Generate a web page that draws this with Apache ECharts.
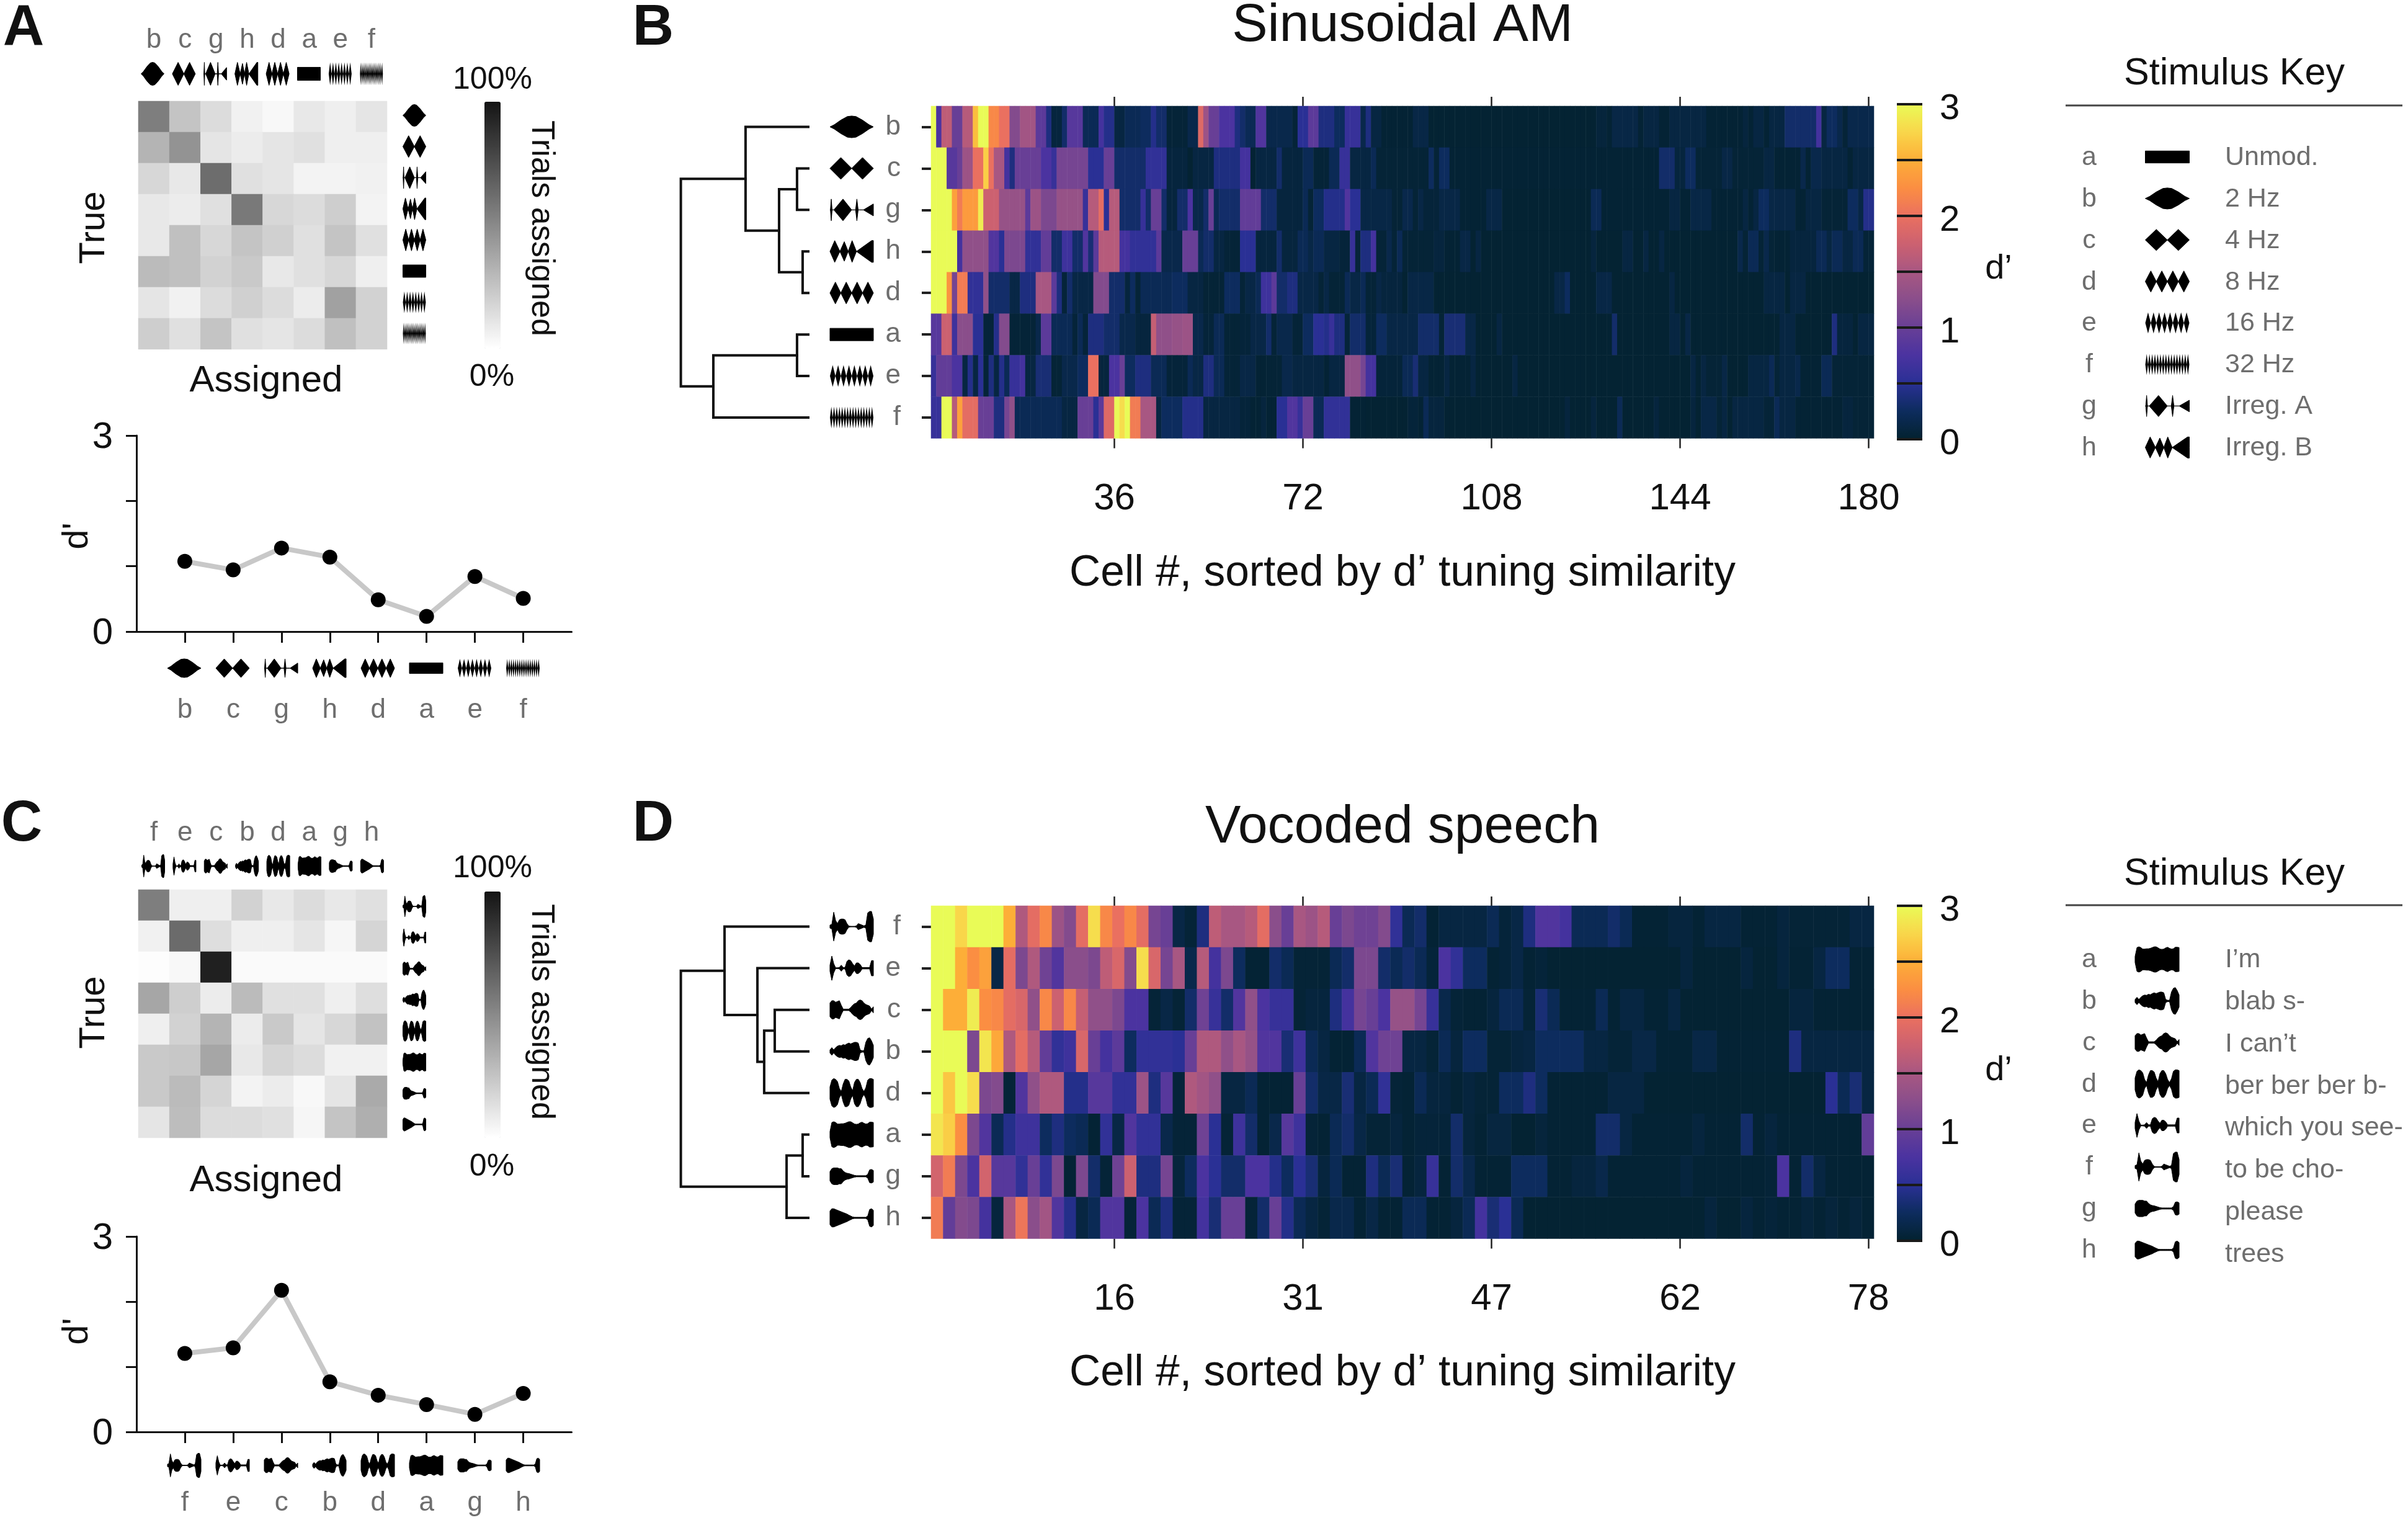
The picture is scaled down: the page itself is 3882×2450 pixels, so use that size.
<!DOCTYPE html>
<html><head><meta charset="utf-8">
<style>html,body{margin:0;padding:0;background:#fff}#c{width:3882px;height:2450px}</style>
<script src="https://cdn.jsdelivr.net/npm/echarts@6/dist/echarts.min.js"></script>
</head><body><div id="c"></div>
<script>
// ---------- data ----------
const orderA = ['b','c','g','h','d','a','e','f'];
const orderC = ['f','e','c','b','d','a','g','h'];
// confusion matrices, % of trials (rows = true, columns = assigned)
const confusionA = [
 [55,25,15,6,3,10,7,11],[32,46,11,8,11,13,7,7],[17,10,62,13,11,5,5,6],[10,8,13,57,17,15,21,5],
 [10,27,17,25,20,13,25,13],[29,27,19,23,10,13,17,7],[11,6,15,20,15,8,40,19],[21,13,25,13,11,15,27,19]];
const confusionC = [
 [55,7,7,19,10,15,10,13],[6,63,14,7,7,11,4,18],[1,3,95,2,2,2,2,2],[38,21,8,29,13,13,7,14],
 [7,19,32,8,23,11,17,26],[23,24,38,10,18,15,6,6],[23,29,18,5,8,3,11,36],[11,28,15,15,13,4,25,34]];
const dprimeA = [1.075,0.944,1.278,1.14,0.487,0.232,0.843,0.508];
const dprimeC = [1.204,1.29,2.173,0.77,0.563,0.42,0.27,0.591];
// heatmap rows as value,count runs (cell values of d')
const heatB = [
 [3,1,.75,1,1.65,2,1,2,1.6,2,2.6,1,3,2,2.2,2,2,2,1.2,2,1.45,3,.9,2,.4,1,.08,2,.3,1,.85,3,.2,3,.7,1,.45,2,.1,2,.2,3,.25,2,.45,1,.3,2,.05,4,.15,2,1.9,1,1.4,1,1,2,.75,3,.4,1,
  .3,1,.2,2,.8,2,.15,5,.05,1,.5,2,.9,2,.4,3,.25,2,.6,3,.15,1,.4,1,.1,2,.03,6,.12,3,.02,32,.07,2,.03,1,.12,5,.03,1,.1,3,.03,2,.1,7,.03,7,.08,1,.03,1,.1,2,.03,1,.1,3,.3,6,.7,1,.1,1,.25,2,.15,1,.05,1,.15,5],
 [3,3,.85,2,1,1,1.4,2,2,2,2.7,1,2,1,1.5,2,.7,1,.4,1,1,5,.75,2,.6,1,1.1,6,.5,3,1,2,.3,6,.55,4,.08,4,.02,1,.1,4,.4,5,
  .7,2,.03,1,.1,1,.1,3,.3,1,.08,4,.2,2,.05,3,.2,2,.6,2,.1,4,.2,1,.04,10,.25,1,.05,1,.25,2,.03,40,.3,3,.08,2,.25,2,.04,5,.12,2,.04,6,.1,2,.03,5,.15,1,.03,1,.15,2,.1,5,.03,1,.1,4],
 [3,4,2.4,1,2.1,1,2.35,3,2.9,1,1.75,3,1.35,5,.9,1,1.4,2,1.15,3,1.35,5,.6,1,1.6,2,1.95,1,.5,1,1.6,2,.3,4,.6,1,.3,1,1,2,.3,1,.08,2,.3,2,.75,1,.15,2,.3,1,1,1,.2,1,.3,4,
  .95,4,.3,3,.08,5,.2,1,.04,1,.25,2,.45,4,.8,1,.5,2,.12,6,.04,2,.15,2,.04,1,.12,1,.06,3,.12,4,.03,5,.12,3,.02,17,.2,2,.03,13,.1,2,.03,2,.12,4,.03,6,.1,1,.03,1,.1,1,.25,2,.12,5,.03,2,.1,3,.04,5,.25,2,.12,1,.45,2],
 [3,5,.7,1,1.3,5,.8,2,.5,1,1.15,4,.55,3,.95,2,.3,2,.65,2,.3,2,.8,1,.35,1,.9,1,1.6,4,.7,2,.55,5,.9,1,.15,4,1,3,.2,1,.3,2,.1,2,.05,3,
  .5,3,.08,4,.3,1,.08,3,.2,2,.12,1,.2,2,.1,3,.06,2,.6,1,.06,1,.4,2,.7,1,.05,2,.15,1,.05,1,.2,1,.04,6,.08,2,.03,3,.12,2,.02,1,.1,1,.02,21,.08,1,.02,5,.1,2,.02,2,.1,1,.02,2,.1,1,.02,14,.15,1,.04,1,.2,2,.04,1,.15,1,.04,1,.03,3,.08,5,.2,2,.1,1,.2,2,.1,2,.2,2,.05,2],
 [3,3,2.3,1,1.1,1,2.1,2,.55,3,1.3,1,.3,1,.3,3,.12,2,.4,3,1.5,3,.9,1,.4,1,.06,1,.3,1,.12,4,1.2,3,.3,3,.08,1,.25,1,.05,1,.2,6,.25,3,.1,3,.04,4,.25,3,
  .05,1,.12,2,.2,1,.65,2,.9,1,.3,2,.4,2,.12,4,.04,1,.12,1,.04,3,.2,1,.12,2,.2,1,.05,2,.12,1,.08,4,.02,1,.12,5,.02,23,.12,2,.25,1,.02,5,.12,3,.02,11,.1,1,.02,17,.1,4,.02,1,.1,3,.02,13],
 [.85,2,1.75,2,.65,1,1.25,3,.5,2,.06,2,.45,1,1.2,2,.05,5,.15,1,.9,2,.2,4,.06,1,.2,1,.06,1,.4,3,.3,3,.15,3,.08,3,1.7,1,1.3,3,1.35,2,1.4,2,.15,2,.06,2,.2,2,.04,3,
  .06,2,.12,3,.3,1,.05,1,.15,3,.05,2,.25,2,.5,2,.45,1,.6,1,.4,2,.06,1,.3,3,.06,2,.25,2,.12,6,.3,4,.04,1,.35,4,.12,2,.02,4,.1,1,.02,21,.3,1,.02,10,.1,2,.02,1,.12,1,.02,17,.1,3,.02,7,.4,1,.08,3,.02,1,.1,3],
 [.6,1,.95,3,.75,2,.1,1,.45,1,.1,1,.5,1,.05,1,.4,1,.1,1,.45,1,.2,1,.6,2,.7,1,.1,2,.35,3,.04,2,.15,3,.25,2,2,2,.08,2,.75,2,1,1,.25,2,.4,3,.2,3,.06,4,.2,1,.12,2,.4,2,.2,2,.05,3,
  .12,3,.03,2,.04,3,.15,2,.1,6,.03,1,.1,3,1.3,3,1.1,1,.7,2,.06,5,.2,2,.35,1,.1,2,.03,3,.1,1,.03,4,.1,1,.02,7,.1,1,.02,33,.1,1,.02,1,.1,1,.04,3,.12,1,.02,4,.1,4,.2,1,.05,1,.1,3,.15,1,.03,4,.2,2,.04,8],
 [.6,2,3,2,1.6,1,2.4,1,1.95,3,1,3,.4,2,1.1,1,1.3,1,.2,9,.1,3,1,3,.5,1,.9,1,1.9,2,3,1,2.8,1,3,1,2.1,2,1.5,3,.1,1,.25,1,.25,3,.45,4,.1,7,
  .06,2,.03,2,.08,1,.03,2,.5,2,.8,2,.6,1,1,2,.2,2,.55,5,.03,3,.02,8,.06,2,.03,1,.2,1,.08,3,.02,23,.08,1,.02,4,.08,1,.02,4,.2,1,.02,6,.08,1,.02,6,.08,1,.02,1,.12,3,.04,1,.1,1,.02,1,.1,6,.05,2,.2,1,.1,3,.03,9,.08,2,.04,4]
];
const heatD = [
 [3,2,2.75,1,3,3,2.5,1,1.55,1,1.95,1,2.2,1,1.4,1,1.2,1,1.95,1,2.8,1,2.2,1,2,1,2.2,1,1.95,1,1.1,1,1,1,.12,1,.05,1,.4,1,1.65,1,1.5,2,1.6,1,1.95,1,1.25,1,1,1,1.5,1,1.4,1,1.6,1,1,1,1.15,1,1.05,2,1.2,1,.55,1,.2,1,.3,1,.03,1,.1,4,.2,1,.06,1,.12,1,.4,1,.8,2,.7,1,.2,3,.3,1,.2,1,.03,3,.08,2,.03,1,.1,3,.03,3,.08,1,.04,5,.1,2],
 [3,2,2.5,1,2.25,1,2.4,1,.12,1,1.95,1,1.15,1,1.55,1,1.05,1,.8,1,1.25,2,1.15,1,1.65,1,1.85,1,1.2,1,2.8,1,1.85,1,1.1,1,1.5,1,.15,1,1.6,1,.7,1,1.15,1,.25,1,.03,2,.3,1,.2,1,.04,3,.2,1,.3,1,1.15,2,.3,1,.2,1,.3,1,.2,1,.06,1,.75,1,.55,1,.25,2,.03,1,.06,1,.12,1,.03,1,.06,1,.02,11,.08,1,.02,4,.08,1,.02,2,.08,1,.03,2,.1,1,.25,2,.03,2],
 [3,1,2.5,2,2.9,1,2.25,1,2.2,1,1.95,1,1.85,1,1.3,1,2.2,1,1.75,1,2.2,1,1.7,1,1.3,2,1.15,1,.75,2,.05,1,.12,1,.04,1,.3,1,1.05,1,.6,1,.3,1,.8,1,1.3,1,.75,1,.6,2,.04,1,.08,2,.4,1,.7,1,1.1,1,1,1,.75,1,1.35,2,1.1,1,.6,1,.15,1,.05,1,.03,2,.08,1,.2,2,.04,1,.35,1,.2,1,.03,3,.2,1,.03,1,.1,2,.03,2,.1,1,.02,9,.08,2,.03,5],
 [3,3,1.15,1,2.85,1,2.45,1,1.55,1,1.95,1,1.6,1,.95,1,.55,1,.65,1,1.85,1,1,1,.7,1,.9,1,.25,1,.55,3,.5,1,1,1,1.55,2,1.3,1,1.5,1,1.35,1,.8,2,.35,1,.65,1,.2,1,.1,1,.03,2,.2,1,.8,1,1.05,2,.1,2,.04,1,.2,1,.08,1,.25,2,.04,2,.08,1,.1,1,.25,4,.1,2,.05,2,.12,2,.03,2,.03,1,.12,2,.03,6,.4,1,.1,6],
 [3,1,2.65,1,3,1,2.8,1,1.15,1,1.2,1,.05,1,.8,1,1.3,1,1.55,2,.45,2,.85,2,.55,2,1.4,1,.4,1,.85,1,.06,1,1.55,1,1.45,1,1.3,1,.1,2,.2,1,.03,3,1,1,.3,1,.12,2,.35,1,.1,1,.2,1,.55,1,.05,1,.03,1,.2,1,.08,2,.03,1,.08,1,.04,2,.25,2,.4,1,.25,1,.03,5,.1,3,.02,15,.5,1,.2,1,.35,1,.1,1],
 [2.85,1,2.7,1,2.25,1,1.15,1,.8,1,.2,1,.45,1,.65,2,.25,1,.4,1,.25,1,.2,1,.03,1,.55,1,.12,1,.8,1,.55,2,.15,1,.05,2,1.05,1,.5,1,.04,1,.65,1,.3,1,.03,1,.15,1,.85,1,.65,1,.05,1,.03,1,.2,1,.3,1,.12,1,.04,2,.08,1,.03,1,.06,3,.3,1,.07,1,.03,1,.09,2,.02,2,.07,1,.03,4,.3,2,.1,1,.03,5,.08,1,.03,3,.3,1,.03,1,.08,1,.03,7,.95,1],
 [1.8,1,2.1,1,1.15,1,.75,1,1.8,1,.85,2,.55,1,1,1,.55,1,1.15,1,.03,1,1.15,1,.3,1,.05,1,1.05,1,1.75,1,.4,2,1.1,1,.07,1,.25,1,.75,1,.5,1,.3,2,.75,2,.45,1,.25,1,.5,1,.35,1,.08,1,.2,1,.03,2,.4,1,.2,1,.35,1,.03,1,.08,1,.6,1,.03,1,.3,1,.15,1,.03,3,.25,3,.03,2,.08,2,.15,1,.03,6,.08,1,.03,6,.05,1,.75,1,.03,1,.3,1,.1,1,.03,4],
 [2.1,1,.95,1,1.2,1,1.15,1,.7,1,.08,1,1.5,1,2.05,1,1.25,1,1.45,1,.8,1,.45,1,.1,1,.2,1,.8,2,.05,1,.75,1,.2,1,.4,1,.05,2,.7,1,.35,1,1,2,.05,1,.3,1,1,1,.45,1,.2,1,.1,1,.04,1,.15,2,.03,1,.12,1,.03,2,.2,2,.03,2,.08,1,.2,1,.7,1,.35,1,.5,1,.2,1,.02,15,.08,1,.02,2,.08,1,.03,1,.06,1,.03,2,.07,1,.03,1,.07,1,.03,1,.07,1,.03,1]
];
const ticksB = [35,71,107,143,179], tickLabelsB = ['36','72','108','144','180'];
const ticksD = [15.17,30.77,46.37,61.97,77.55], tickLabelsD = ['16','31','47','62','78'];
// dendrograms: [height, left, right], numbers are row indices
const treeB = [1,[.492,0,[.229,[.088,1,2],[.044,3,4]]],[.745,[.088,5,6],7]];
const treeD = [1,[.657,0,[.399,1,[.346,[.263,2,3],4]]],[.17,[.044,5,6],7]];
const keyAM = ['Unmod.','2 Hz','4 Hz','8 Hz','16 Hz','32 Hz','Irreg. A','Irreg. B'];
const keySpeech = ['I’m','blab s-','I can’t','ber ber ber b-','which you see-','to be cho-','please','trees'];
const keyLetters = ['a','b','c','d','e','f','g','h'];
// thermal colour scale, 0 to 3 in steps of .25
const thermal = ['#03222f','#0d2c5e','#2a3095','#4b33a0','#683f96','#8a4e8b','#a85782','#cc6170','#ea7060','#fb8e42','#fdae38','#f9d64a','#e9fb57'];
// stimulus envelopes: [x, half-height] outlines
const diamonds = n => { const p=[]; for(let i=0;i<=2*n;i++) p.push([i/(2*n), i%2]); return p; };
const amEnv = {
 a:[[0,0],[0,.57],[1,.57],[1,0]],
 b:[[0,0],[.1,.2],[.25,.62],[.4,.95],[.5,1],[.6,.95],[.75,.62],[.9,.2],[1,0]],
 c:diamonds(2), d:diamonds(4), e:diamonds(8), f:diamonds(16),
 g:[[0,0],[.01,0],[.03,1],[.05,0],[.09,0],[.3,1],[.5,0],[.59,0],[.62,1],[.65,0],[.77,0],[1,.55],[1,0]],
 h:[[0,0],[.11,1],[.23,0],[.33,.9],[.42,0],[.51,1],[.61,0],[.96,1],[1,1],[1,0]]
};
const spEnv = {
 a:[.2,.8,.85,.8,.7,.7,.72,.72,.75,.8,.85,.85,.78,.7,.68,.7,.78,.82,.75,.7,.72,.82,.82,.8],
 b:[.1,.25,.1,.25,.35,.4,.38,.45,.42,.5,.55,.5,.55,.6,.6,.55,.1,.05,.05,.6,.85,.9,.7,.4],
 c:[.45,.6,.6,.5,.55,.6,.3,.05,.05,.05,.05,.15,.3,.4,.45,.6,.65,.6,.45,.35,.3,.25,.05,.2],
 d:[.4,.85,.95,.9,.75,.3,.1,.6,.9,.9,.8,.4,.15,.7,.9,.9,.7,.3,.1,.35,.85,.95,.95,.9],
 e:[.2,.8,.3,.03,.03,.05,.2,.05,.05,.45,.55,.5,.3,.15,.35,.35,.25,.05,.05,.05,.05,.05,.5,.5],
 f:[.1,.15,.95,.4,.2,.45,.5,.5,.45,.2,.04,.02,.02,.02,.05,.2,.15,.1,.05,.1,.9,1,1,.5],
 g:[.3,.5,.55,.55,.55,.5,.5,.35,.25,.2,.18,.14,.1,.06,.04,.04,.04,.04,.04,.04,.12,.42,.45,.38],
 h:[.45,.6,.6,.55,.5,.45,.4,.35,.3,.25,.18,.12,.06,.04,.04,.04,.04,.04,.04,.04,.12,.55,.6,.5]
};

// ---------- helpers ----------
const FONT = '"Liberation Sans"';
const GRAY = '#6e6e6e';
const expand = (r, n) => { const o=[]; for(let i=0;i<r.length;i+=2) for(let k=0;k<r[i+1];k++) o.push(r[i]); while(o.length<n) o.push(o[o.length-1]); return o.slice(0,n); };
const cells = (rows, n) => { const d=[]; rows.forEach((r,j)=>expand(r,n).forEach((v,i)=>d.push([i,j,v]))); return d; };
const matrixCells = m => { const d=[]; m.forEach((r,j)=>r.forEach((v,i)=>d.push([i,j,v]))); return d; };
const graphics = [];
const txt = (text,x,y,size,o={}) => graphics.push({type:'text',x,y,rotation:o.rot||0,silent:true,z:20,
  style:{text,x:0,y:4,font:`${o.bold?'bold ':''}${size}px ${FONT}`,fill:o.fill||'#111',align:o.align||'center',verticalAlign:'middle'}});
const glyph = (name,kind,cx,cy,w,h) => {
  const env = kind==='am' ? amEnv[name] : spEnv[name].map((a,i,s)=>[i/(s.length-1),a]);
  const top = env.map(([x,a])=>[cx-w/2+x*w, cy-a*h/2]);
  const bot = env.slice().reverse().map(([x,a])=>[cx-w/2+x*w, cy+a*h/2]);
  const thin = kind==='am' && (name==='e'||name==='f');
  graphics.push({type:'polygon',silent:true,z:20,shape:{points:top.concat(bot)},style:thin?{fill:'#000'}:{fill:'#000',stroke:'#000',lineWidth:1}});
};

const grid=[],xAxis=[],yAxis=[],series=[],visualMap=[];
const addGrid = (left,top,width,height) => { grid.push({left,top,width,height,containLabel:false,show:false}); return grid.length-1; };
const hidden = {show:false};

function confusion(m,order,kind,o){
  const g=addGrid(223,o.top,401,400);
  const xi=xAxis.length, yi=yAxis.length;
  xAxis.push({gridIndex:g,type:'category',position:'top',data:order,axisLine:hidden,axisTick:hidden,splitLine:hidden,
    axisLabel:{fontFamily:FONT,fontSize:44,color:GRAY,margin:o.labelMargin,interval:0}});
  yAxis.push({gridIndex:g,type:'category',inverse:true,data:order,show:false});
  series.push({type:'heatmap',xAxisIndex:xi,yAxisIndex:yi,data:matrixCells(m),silent:true,progressive:0,animation:false});
  visualMap.push({type:'continuous',min:0,max:100,seriesIndex:series.length-1,dimension:2,show:true,left:781,top:o.barTop,itemWidth:26,itemHeight:o.barH,
    padding:0,calculable:false,hoverLink:false,text:null,inRange:{color:['#ffffff','#141414']}});
  order.forEach((n,i)=>{
    glyph(n,kind,o.glyphX+50.4*i,o.glyphY,37,37);
    glyph(n,kind,668,o.rightY+50.2*i,37,35);
    glyph(n,kind,297+78*i,o.belowY,54,o.belowH);
  });
  txt('True',148,o.trueY,58,{rot:Math.PI/2});
  txt('Assigned',429,o.assignedY,60);
  txt('100%',794,o.pctTop,50);
  txt('0%',793,o.pctBot,50);
  txt('Trials assigned',876,o.trialsY,52,{rot:-Math.PI/2});
}
function linePanel(vals,order,o){
  const g=addGrid(220,o.top,701.5,o.h);
  const xi=xAxis.length, yi=yAxis.length;
  const axLine={lineStyle:{color:'#111',width:3}};
  xAxis.push({gridIndex:g,type:'category',boundaryGap:false,data:[''].concat(order,['']),position:'bottom',axisLine:Object.assign({onZero:false},axLine),
    axisTick:{length:18,lineStyle:{color:'#111',width:3},interval:(i)=>i>0&&i<9},splitLine:hidden,
    axisLabel:{interval:0,fontFamily:FONT,fontSize:44,color:GRAY,margin:o.lm}});
  yAxis.push({gridIndex:g,type:'value',min:0,max:3,interval:1,axisLine:Object.assign({show:true},axLine),
    axisTick:{show:true,length:17,lineStyle:{color:'#111',width:3}},splitLine:hidden,
    axisLabel:{fontFamily:FONT,fontSize:60,color:'#111',margin:38,verticalAlign:'top',lineHeight:6,formatter:v=>(v===0||v===3)?String(v):''}});
  series.push({type:'line',xAxisIndex:xi,yAxisIndex:yi,data:[null].concat(vals,[null]),symbol:'circle',symbolSize:24,showSymbol:true,
    itemStyle:{color:'#000'},lineStyle:{color:'#c8c8c8',width:8},animation:false,silent:true,clip:false});
  txt("d'",121,o.dY,58,{rot:Math.PI/2});
}
function dendro(tree,top,h){
  const g=addGrid(1097.6,top,205.4,h);
  const xi=xAxis.length, yi=yAxis.length;
  xAxis.push({gridIndex:g,type:'value',min:0,max:1,inverse:true,show:false});
  yAxis.push({gridIndex:g,type:'value',min:-.5,max:7.5,inverse:true,show:false});
  const walk=n=>{ if(typeof n==='number') return {p:n,h:0};
    const L=walk(n[1]),R=walk(n[2]);
    series.push({type:'line',xAxisIndex:xi,yAxisIndex:yi,data:[[L.h,L.p],[n[0],L.p],[n[0],R.p],[R.h,R.p]],symbol:'none',clip:false,animation:false,silent:true,
      lineStyle:{color:'#111',width:4,cap:'square',join:'miter'}});
    return {p:(L.p+R.p)/2,h:n[0]}; };
  walk(tree);
}
function heatPanel(rows,n,letters,kind,ticks,tickLabels,o){
  const h=o.h, L=1501, W=1520;
  const g=addGrid(L,o.top,W,h);
  let xi=xAxis.length, yi=yAxis.length;
  xAxis.push({gridIndex:g,type:'category',data:Array.from({length:n},(_,i)=>i+1),show:false});
  yAxis.push({gridIndex:g,type:'category',inverse:true,data:letters,axisLine:hidden,splitLine:hidden,
    axisTick:{show:true,alignWithLabel:true,length:15,lineStyle:{color:'#222',width:4}},
    axisLabel:{interval:0,fontFamily:FONT,fontSize:44,color:GRAY,margin:49}});
  series.push({type:'heatmap',xAxisIndex:xi,yAxisIndex:yi,data:cells(rows,n),silent:true,progressive:0,animation:false});
  visualMap.push({type:'continuous',min:0,max:3,seriesIndex:series.length-1,dimension:2,show:true,left:3058,top:o.barTop,itemWidth:41,itemHeight:o.barH,
    padding:0,calculable:false,hoverLink:false,text:null,inRange:{color:thermal}});
  // tick overlay sharing the heatmap rectangle
  const g2=addGrid(L,o.top,W,h);
  const base={gridIndex:g2,type:'value',min:0,max:n,splitLine:hidden,axisLine:hidden};
  xAxis.push(Object.assign({},base,{position:'bottom',axisTick:{show:true,customValues:ticks,length:16,lineStyle:{color:'#222',width:2.5}},
    axisLabel:{show:true,customValues:ticks,fontFamily:FONT,fontSize:60,color:'#111',margin:68,formatter:v=>tickLabels[ticks.indexOf(v)]}}));
  xAxis.push(Object.assign({},base,{position:'top',axisTick:{show:true,customValues:ticks,length:15,lineStyle:{color:'#222',width:2.5}},axisLabel:hidden}));
  yAxis.push({gridIndex:g2,type:'value',min:0,max:1,show:false});
  // colour bar axis
  const g3=addGrid(3058,o.barTop,41,o.barH);
  xAxis.push({gridIndex:g3,type:'value',min:0,max:1,show:false});
  yAxis.push({gridIndex:g3,type:'value',min:0,max:3,interval:.5,position:'right',z:10,axisLine:hidden,axisTick:hidden,
    splitLine:{show:true,lineStyle:{color:'#1a1a1a',width:4}},
    axisLabel:{fontFamily:FONT,fontSize:58,color:'#111',margin:28,verticalAlign:'top',lineHeight:16,formatter:v=>Number.isInteger(v)?String(v):''}});
  dendro(o.tree,o.top,h);
  letters.forEach((c,i)=>glyph(c,kind,1373,o.top+h/8*(i+.5),70,kind==='am'?35:49));
  txt("d’",3222,o.dY,56);
  txt('Cell #, sorted by d’ tuning similarity',2261,o.xlabY,69.5);
  txt(o.title,2261,o.titleY,86);
}
function keyPanel(names,kind,o){
  txt('Stimulus Key',3602,o.titleY,61);
  graphics.push({type:'line',silent:true,shape:{x1:3330,y1:o.lineY,x2:3873,y2:o.lineY},style:{stroke:'#444',lineWidth:3}});
  keyLetters.forEach((c,i)=>{
    txt(c,3368,o.y0+o.lstep*i,43,{fill:GRAY});
    glyph(c,kind,o.gx,o.gy0+66.9*i,71,o.gh);
    txt(names[i],3587,o.ty0+o.tstep*i,43,{fill:GRAY,align:'left'});
  });
}

// ---------- panels ----------
confusion(confusionA,orderA,'am',{top:163,labelMargin:76,barTop:164,barH:398,glyphX:246,glyphY:119,rightY:186,belowY:1077,belowH:30,
  trueY:367,assignedY:610,pctTop:125,pctBot:604,trialsY:368});
confusion(confusionC,orderC,'sp',{top:1434,labelMargin:69,barTop:1437,barH:397,glyphX:247,glyphY:1396,rightY:1461,belowY:2362,belowH:39,
  trueY:1632,assignedY:1899,pctTop:1396,pctBot:1877,trialsY:1631});
heatPanel(heatB,180,orderA,'am',ticksB,tickLabelsB,{top:171,h:535.5,barTop:168,barH:539.5,tree:treeB,dY:430,xlabY:921,title:'Sinusoidal AM',titleY:38});
heatPanel(heatD,78,orderC,'sp',ticksD,tickLabelsD,{top:1460,h:536.5,barTop:1460,barH:540,tree:treeD,dY:1722,xlabY:2210,title:'Vocoded speech',titleY:1330});
linePanel(dprimeA,orderA,{top:702,h:316,lm:105,dY:864});
linePanel(dprimeC,orderC,{top:1993,h:315,lm:93,dY:2146});
keyPanel(keyAM,'am',{titleY:115,lineY:170,y0:250,lstep:66.9,gx:3494,gy0:253,gh:34,ty0:250,tstep:66.9});
keyPanel(keySpeech,'sp',{titleY:1405,lineY:1459,y0:1543,lstep:66.9,gx:3477.5,gy0:1546.5,gh:48,ty0:1543,tstep:67.9});
txt('A',38,43,92,{bold:true}); txt('B',1053,43,92,{bold:true}); txt('C',35,1326,92,{bold:true}); txt('D',1053,1326,92,{bold:true});

const chart = echarts.init(document.getElementById('c'),null,{renderer:'canvas',width:3882,height:2450,devicePixelRatio:1});
chart.setOption({animation:false,backgroundColor:'#fff',tooltip:{show:false},grid,xAxis,yAxis,series,visualMap,graphic:graphics});
</script></body></html>
